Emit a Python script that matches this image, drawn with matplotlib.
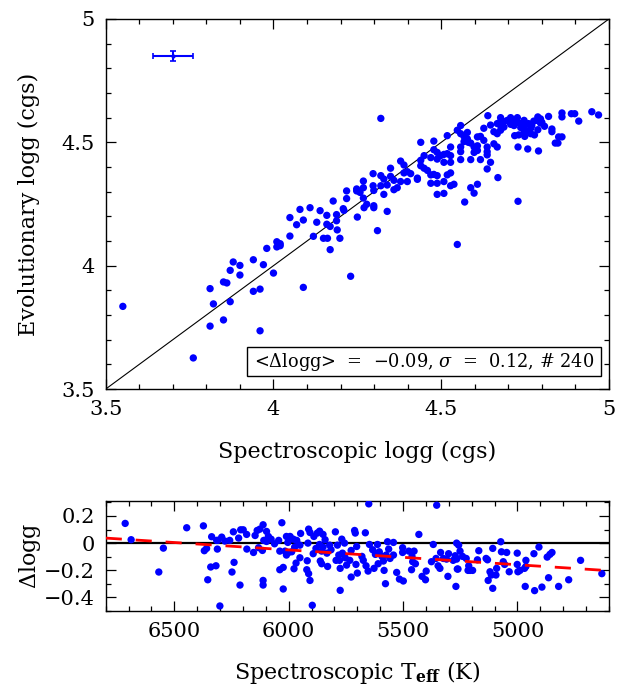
import numpy as np
import matplotlib
matplotlib.use("Agg")
import matplotlib.pyplot as plt
from matplotlib.patches import Rectangle
from matplotlib.ticker import MultipleLocator

plt.rcParams['font.family'] = ['DejaVu Serif']
plt.rcParams['mathtext.fontset'] = 'dejavuserif'

# Panneau du haut : logg spectroscopique vs logg evolutif
spec_logg = [
    3.551, 3.761, 3.811, 3.811, 3.821, 3.851, 3.861, 3.851, 3.871, 3.871,
    3.880, 3.900, 3.900, 3.940, 3.940, 3.960, 3.960, 3.970, 3.980, 4.000,
    4.010, 4.010, 4.020, 4.020, 4.049, 4.049, 4.069, 4.079, 4.089, 4.089,
    4.109, 4.119, 4.129, 4.139, 4.149, 4.159, 4.159, 4.161, 4.169, 4.169,
    4.178, 4.188, 4.188, 4.190, 4.198, 4.208, 4.210, 4.218, 4.218, 4.230,
    4.248, 4.248, 4.250, 4.258, 4.268, 4.268, 4.268, 4.270, 4.278, 4.297,
    4.297, 4.299, 4.299, 4.299, 4.310, 4.320, 4.320, 4.320, 4.329, 4.329,
    4.339, 4.339, 4.349, 4.349, 4.359, 4.359, 4.369, 4.379, 4.379, 4.389,
    4.389, 4.399, 4.399, 4.409, 4.429, 4.429, 4.439, 4.439, 4.439, 4.449,
    4.449, 4.459, 4.469, 4.469, 4.469, 4.478, 4.478, 4.488, 4.488, 4.488,
    4.488, 4.488, 4.508, 4.508, 4.508, 4.508, 4.518, 4.518, 4.518, 4.528,
    4.528, 4.528, 4.528, 4.528, 4.538, 4.548, 4.548, 4.558, 4.558, 4.558,
    4.558, 4.558, 4.568, 4.568, 4.570, 4.578, 4.578, 4.588, 4.588, 4.598,
    4.598, 4.598, 4.608, 4.608, 4.608, 4.608, 4.617, 4.617, 4.627, 4.627,
    4.637, 4.637, 4.637, 4.637, 4.639, 4.647, 4.647, 4.657, 4.657, 4.667,
    4.667, 4.669, 4.677, 4.677, 4.677, 4.687, 4.687, 4.707, 4.717, 4.717,
    4.719, 4.727, 4.729, 4.729, 4.731, 4.737, 4.747, 4.747, 4.749, 4.758,
    4.760, 4.770, 4.778, 4.788, 4.788, 4.790, 4.800, 4.808, 4.820, 4.830,
    4.830, 4.840, 4.848, 4.850, 4.860, 4.860, 4.860, 4.888, 4.898, 4.910,
    4.949, 4.969, 4.581, 4.588, 4.667, 4.677, 4.697, 4.707, 4.727, 4.737,
    4.747, 4.757, 4.767, 4.776, 4.786, 4.796, 4.796, 4.767, 4.478, 4.498,
]
evol_logg = [
    3.835, 3.626, 3.907, 3.755, 3.845, 3.934, 3.930, 3.780, 3.981, 3.854,
    4.015, 4.001, 3.962, 4.024, 3.896, 3.905, 3.736, 4.004, 4.070, 3.970,
    4.097, 4.076, 4.089, 4.081, 4.195, 4.120, 4.166, 4.228, 4.185, 3.912,
    4.235, 4.119, 4.176, 4.223, 4.111, 4.204, 4.168, 4.111, 4.159, 4.065,
    4.262, 4.207, 4.182, 4.145, 4.111, 4.231, 4.224, 4.303, 4.272, 3.957,
    4.311, 4.303, 4.197, 4.297, 4.343, 4.316, 4.274, 4.235, 4.249, 4.373,
    4.324, 4.305, 4.243, 4.235, 4.142, 4.597, 4.365, 4.324, 4.351, 4.289,
    4.327, 4.220, 4.395, 4.362, 4.346, 4.308, 4.316, 4.424, 4.341, 4.408,
    4.376, 4.341, 4.381, 4.373, 4.355, 4.350, 4.500, 4.427, 4.405, 4.446,
    4.395, 4.386, 4.438, 4.368, 4.334, 4.505, 4.470, 4.459, 4.432, 4.365,
    4.334, 4.289, 4.451, 4.419, 4.341, 4.293, 4.527, 4.454, 4.368, 4.481,
    4.446, 4.419, 4.376, 4.324, 4.330, 4.549, 4.086, 4.568, 4.535, 4.481,
    4.462, 4.430, 4.524, 4.503, 4.258, 4.540, 4.514, 4.430, 4.316, 4.481,
    4.459, 4.294, 4.522, 4.486, 4.467, 4.330, 4.524, 4.430, 4.557, 4.508,
    4.481, 4.462, 4.449, 4.392, 4.608, 4.570, 4.419, 4.543, 4.494, 4.576,
    4.481, 4.357, 4.600, 4.568, 4.549, 4.584, 4.562, 4.600, 4.581, 4.568,
    4.527, 4.600, 4.481, 4.261, 4.530, 4.560, 4.589, 4.546, 4.524, 4.473,
    4.576, 4.568, 4.530, 4.603, 4.551, 4.465, 4.581, 4.565, 4.605, 4.554,
    4.543, 4.497, 4.497, 4.522, 4.619, 4.603, 4.522, 4.616, 4.616, 4.586,
    4.624, 4.611, 4.500, 4.497, 4.535, 4.584, 4.589, 4.573, 4.581, 4.576,
    4.562, 4.546, 4.557, 4.586, 4.589, 4.595, 4.578, 4.535, 4.370, 4.446,
]

# Barre d'erreur typique
err_x, err_y = 3.70, 4.85
err_dx, err_dy = 0.06, 0.02

stats_text = r'<$\Delta$logg>  =  $-$0.09, $\sigma$  =  0.12, # 240'

# Panneau du bas : residus vs Teff
teff = [
    6715, 6689, 6568, 6548, 6446, 6373, 6369, 6359, 6354, 6341,
    6337, 6318, 6315, 6312, 6310, 6301, 6293, 6279, 6258, 6248,
    6242, 6239, 6219, 6213, 6210, 6199, 6184, 6183, 6154, 6147,
    6138, 6132, 6126, 6115, 6112, 6112, 6112, 6109, 6097, 6097,
    6089, 6077, 6062, 6044, 6039, 6039, 6030, 6024, 6024, 6016,
    6010, 6010, 6004, 6001, 5994, 5987, 5980, 5977, 5974, 5968,
    5965, 5951, 5951, 5948, 5921, 5919, 5916, 5913, 5913, 5907,
    5907, 5897, 5893, 5890, 5881, 5875, 5865, 5865, 5862, 5856,
    5856, 5850, 5850, 5841, 5833, 5830, 5821, 5815, 5796, 5793,
    5787, 5781, 5778, 5775, 5775, 5768, 5765, 5756, 5753, 5747,
    5733, 5727, 5727, 5712, 5709, 5706, 5703, 5700, 5680, 5674,
    5665, 5662, 5653, 5650, 5647, 5633, 5627, 5621, 5612, 5609,
    5604, 5592, 5586, 5583, 5577, 5574, 5568, 5563, 5557, 5542,
    5542, 5528, 5516, 5502, 5502, 5499, 5475, 5463, 5461, 5458,
    5452, 5446, 5431, 5417, 5402, 5399, 5376, 5368, 5356, 5353,
    5347, 5339, 5336, 5324, 5310, 5304, 5301, 5281, 5272, 5269,
    5266, 5266, 5263, 5257, 5260, 5251, 5240, 5224, 5216, 5213,
    5207, 5196, 5175, 5169, 5137, 5131, 5128, 5120, 5114, 5108,
    5108, 5094, 5091, 5073, 5070, 5062, 5056, 5047, 5036, 5001,
    5001, 4998, 4989, 4969, 4966, 4963, 4963, 4928, 4925, 4906,
    4893, 4870, 4864, 4858, 4849, 4820, 4776, 4724, 4631,
]
dlogg = [
    0.145, 0.025, -0.213, -0.037, 0.113, 0.127, -0.056, -0.039, -0.270, -0.176,
    0.047, -0.167, 0.020, -0.044, 0.020, -0.463, 0.044, 0.015, 0.020, -0.213,
    0.083, -0.142, 0.037, -0.309, 0.098, 0.098, 0.064, -0.044, -0.069, 0.056,
    0.093, -0.034, 0.103, -0.054, 0.135, -0.275, -0.309, 0.020, 0.086, 0.012,
    0.049, 0.029, -0.005, 0.020, -0.059, -0.196, 0.150, -0.179, -0.338, -0.059,
    0.049, -0.088, 0.005, -0.069, 0.049, -0.064, 0.029, -0.189, -0.029, -0.147,
    0.020, -0.015, -0.108, 0.071, -0.196, -0.130, 0.000, 0.103, -0.225, 0.078,
    -0.275, -0.458, -0.078, 0.049, -0.039, 0.074, 0.088, -0.010, -0.132, -0.059,
    -0.152, 0.064, -0.029, 0.025, -0.074, -0.172, -0.015, -0.049, 0.083, -0.127,
    -0.015, -0.088, -0.127, -0.186, -0.348, 0.029, -0.074, 0.000, -0.108, -0.162,
    -0.127, -0.054, -0.250, 0.093, 0.074, -0.157, -0.025, -0.221, -0.098, -0.127,
    0.076, -0.167, -0.206, 0.289, -0.010, -0.049, -0.186, -0.083, -0.010, -0.152,
    -0.064, -0.098, -0.132, -0.201, -0.299, -0.088, 0.010, -0.044, -0.113, -0.088,
    0.005, -0.216, -0.265, -0.034, -0.069, -0.279, -0.059, -0.196, -0.098, -0.137,
    -0.059, -0.152, 0.064, -0.245, -0.270, -0.206, -0.137, -0.010, -0.113, 0.279,
    -0.167, -0.186, -0.069, -0.113, -0.118, -0.245, -0.078, -0.127, -0.093, -0.319,
    -0.118, 0.000, -0.191, -0.015, -0.191, -0.059, -0.098, -0.113, -0.201, -0.167,
    -0.201, -0.201, -0.123, -0.056, -0.113, -0.123, -0.275, -0.211, -0.235, -0.039,
    -0.333, -0.235, -0.186, 0.010, -0.064, -0.137, -0.157, -0.069, -0.211, -0.074,
    -0.157, -0.211, -0.201, -0.186, -0.319, -0.127, -0.172, -0.078, -0.350, -0.029,
    -0.324, -0.103, -0.255, -0.083, -0.069, -0.319, -0.270, -0.127, -0.225,
]

# Ajustement lineaire (extremites)
fit_teff = [6800, 4600]
fit_dlogg = [0.037, -0.203]

blue = '#0000ff'

fig = plt.figure(figsize=(6.22, 6.90), dpi=100)
ax1 = fig.add_axes([0.170, 0.4362, 0.809, 0.5363])
ax2 = fig.add_axes([0.170, 0.1145, 0.809, 0.1594])


def style_axes(ax):
    ax.tick_params(which='both', direction='in', top=True, right=True,
                   labelsize=15, pad=8)
    ax.tick_params(which='major', length=7, width=0.9)
    ax.tick_params(which='minor', length=3.5, width=0.9)
    for s in ax.spines.values():
        s.set_linewidth(1.0)


# --- haut ---
ax1.scatter(spec_logg, evol_logg, s=28, color=blue, edgecolors='none', zorder=3)
ax1.plot([3.5, 5], [3.5, 5], color='black', lw=0.8, zorder=2)
ax1.errorbar(err_x, err_y, xerr=err_dx, yerr=err_dy, fmt='o', ms=2,
             color=blue, ecolor=blue, elinewidth=1.5, capsize=2.5, capthick=1.2)
ax1.set_xlim(3.5, 5)
ax1.set_ylim(3.5, 5)
ax1.xaxis.set_minor_locator(MultipleLocator(0.1))
ax1.yaxis.set_minor_locator(MultipleLocator(0.1))
ax1.set_xticks([3.5, 4, 4.5, 5])
ax1.set_xticklabels(['3.5', '4', '4.5', '5'])
ax1.set_yticks([3.5, 4, 4.5, 5])
ax1.set_yticklabels(['3.5', '4', '4.5', '5'])
style_axes(ax1)
ax1.set_xlabel('Spectroscopic logg (cgs)', fontsize=16)
ax1.set_ylabel('Evolutionary logg (cgs)', fontsize=16)
ax1.xaxis.set_label_coords(0.5, -0.14)
ax1.yaxis.set_label_coords(-0.13, 0.5)

ax1.add_patch(Rectangle((0.281, 0.035), 0.704, 0.0784, transform=ax1.transAxes,
                        facecolor='white', edgecolor='black', lw=1.0, zorder=4))
ax1.text(0.633, 0.074, stats_text, transform=ax1.transAxes, ha='center',
         va='center', fontsize=12.8, zorder=5)

# --- bas ---
ax2.scatter(teff, dlogg, s=28, color=blue, edgecolors='none', zorder=3)
ax2.axhline(0, color='black', lw=1.6, zorder=2)
ax2.plot(fit_teff, fit_dlogg, color='red', lw=2, ls=(0, (5.8, 5)), zorder=4)
ax2.set_xlim(6800, 4600)
ax2.set_ylim(-0.5, 0.31)
ax2.xaxis.set_major_locator(MultipleLocator(500))
ax2.xaxis.set_minor_locator(MultipleLocator(100))
ax2.yaxis.set_minor_locator(MultipleLocator(0.1))
ax2.set_yticks([-0.4, -0.2, 0, 0.2])
ax2.set_yticklabels(['\u22120.4', '\u22120.2', '0', '0.2'])
style_axes(ax2)
ax2.set_xlabel(r'Spectroscopic T$_{\mathbf{eff}}$ (K)', fontsize=16)
ax2.set_ylabel(r'$\Delta$logg', fontsize=16)
ax2.xaxis.set_label_coords(0.5, -0.44)
ax2.yaxis.set_label_coords(-0.125, 0.5)

fig.savefig('out.png', dpi=100)
